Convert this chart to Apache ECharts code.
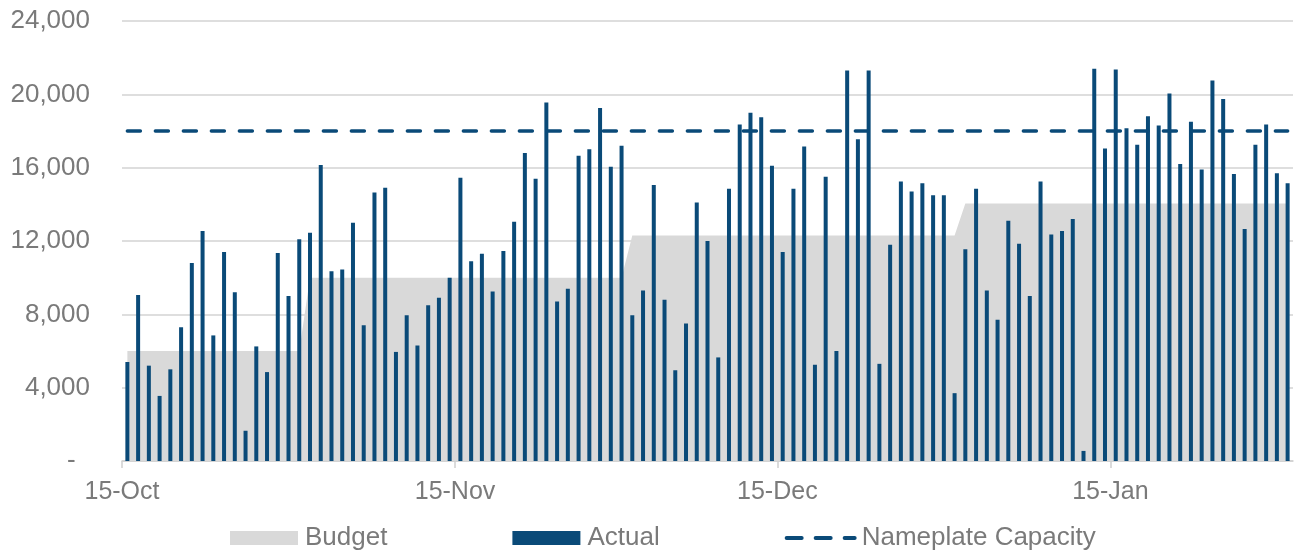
<!DOCTYPE html>
<html>
<head>
<meta charset="utf-8">
<script src="https://cdn.jsdelivr.net/npm/echarts@6/dist/echarts.min.js"></script>
<style>
  html, body { margin: 0; padding: 0; background: #fff; }
  #main { width: 1296px; height: 551px; }
</style>
</head>
<body>
<div id="main"></div>
<script>
// daily actual, 15-Oct .. 31-Jan
var actual = [
  5400, 9050, 5200, 3550, 5000, 7300, 10800, 12550, 6850, 11400, 9200, 1650, 6250, 4850, 11350, 9000, 12100, 12450,
  16150, 10350, 10450, 13000, 7400, 14650, 14900, 5950, 7950, 6300, 8500, 8900, 10000, 15450, 10900, 11300, 9250, 11450,
  13050, 16800, 15400, 19550, 8700, 9400, 16650, 17000, 19250, 16050, 17200, 7950, 9300, 15050, 8800, 4950, 7500,
  14100, 12000, 5650, 14850, 18350, 19000, 18750, 16100, 11400, 14850, 17150, 5250, 15500, 6000, 21300, 17550, 21300, 5300,
  11800, 15250, 14700, 15150, 14500, 14500, 3700, 11550, 14850, 9300, 7700, 13100, 11850, 9000, 15250, 12350, 12550, 13200,
  550, 21400, 17050, 21350, 18150, 17250, 18800, 18300, 20050, 16200, 18500, 15900, 20750, 19750, 15650, 12650, 17250, 18350, 15700, 15150
];
// monthly budget: Oct, Nov, Dec, Jan
var budgetMonths = ['Oct', 'Nov', 'Dec', 'Jan'];
var budgetValues = [6000, 10000, 12300, 14050];
var nameplateValue = 18000;
var tickLabels = ['15-Oct', '15-Nov', '15-Dec', '15-Jan'];
var yTicks = [0, 4000, 8000, 12000, 16000, 20000, 24000];

var monNames = ['Jan','Feb','Mar','Apr','May','Jun','Jul','Aug','Sep','Oct','Nov','Dec'];
var days = [], edges = [], budget = [], nameplate = [];
for (var i = 0; i <= actual.length; i++) {
  var d = new Date(2018, 9, 15 + i);
  var lab = d.getDate() + '-' + monNames[d.getMonth()];
  edges.push(lab);
  if (i < actual.length) {
    days.push(lab);
    budget.push(budgetValues[budgetMonths.indexOf(monNames[d.getMonth()])]);
    nameplate.push(nameplateValue);
  }
}

var txt = '#7a7a7a';
var blue = '#0a4a78';
var font = 'Liberation Sans, Arial, sans-serif';
function isTick(idx) { return tickLabels.indexOf(edges[idx]) >= 0; }

var chart = echarts.init(document.getElementById('main'));
chart.setOption({
  animation: false,
  grid: { left: 122, right: 3, top: 21, bottom: 90 },
  legend: {
    left: 230, top: 525, padding: 0,
    itemWidth: 68, itemHeight: 14, itemGap: 125,
    textStyle: { color: txt, fontSize: 26, fontFamily: font, padding: [0, 0, 0, 2] },
    data: [
      { name: 'Budget', icon: 'rect' },
      { name: 'Actual', icon: 'rect' },
      { name: 'Nameplate Capacity', itemStyle: { opacity: 0 },
        lineStyle: { color: blue, width: 4, type: [15, 14], cap: 'round' } }
    ]
  },
  xAxis: [{
    type: 'category', data: days, boundaryGap: true,
    axisLine: { lineStyle: { color: '#d0d0d0', width: 1.5 } },
    axisTick: { show: false }, axisLabel: { show: false }
  }, {
    type: 'category', data: edges, boundaryGap: false, position: 'bottom',
    axisLine: { show: false },
    axisTick: { show: true, interval: isTick, length: 7, lineStyle: { color: '#d0d0d0', width: 1.5 } },
    axisLabel: {
      interval: isTick, margin: 19,
      color: txt, fontSize: 25, fontFamily: font
    }
  }],
  yAxis: {
    type: 'value', min: yTicks[0], max: yTicks[yTicks.length - 1], interval: 4000,
    axisLine: { show: false }, axisTick: { show: false },
    splitLine: { lineStyle: { color: '#dedede', width: 2 } },
    axisLabel: {
      margin: 32, color: txt, fontSize: 26, fontFamily: font,
      formatter: function (v) { return v === 0 ? '-  ' : v.toLocaleString('en-US'); }
    }
  },
  series: [{
    name: 'Budget', type: 'line', data: budget, symbol: 'none',
    itemStyle: { color: '#d9d9d9' },
    lineStyle: { width: 0, color: '#d9d9d9' },
    areaStyle: { color: '#d9d9d9', opacity: 1 }, z: 1
  }, {
    name: 'Actual', type: 'bar', data: actual, barWidth: 4,
    itemStyle: { color: blue }, z: 2
  }, {
    name: 'Nameplate Capacity', type: 'line', data: nameplate, symbol: 'none',
    itemStyle: { color: blue },
    lineStyle: { color: blue, width: 3.5, type: [13, 15], cap: 'round' }, z: 3
  }]
});
</script>
</body>
</html>
